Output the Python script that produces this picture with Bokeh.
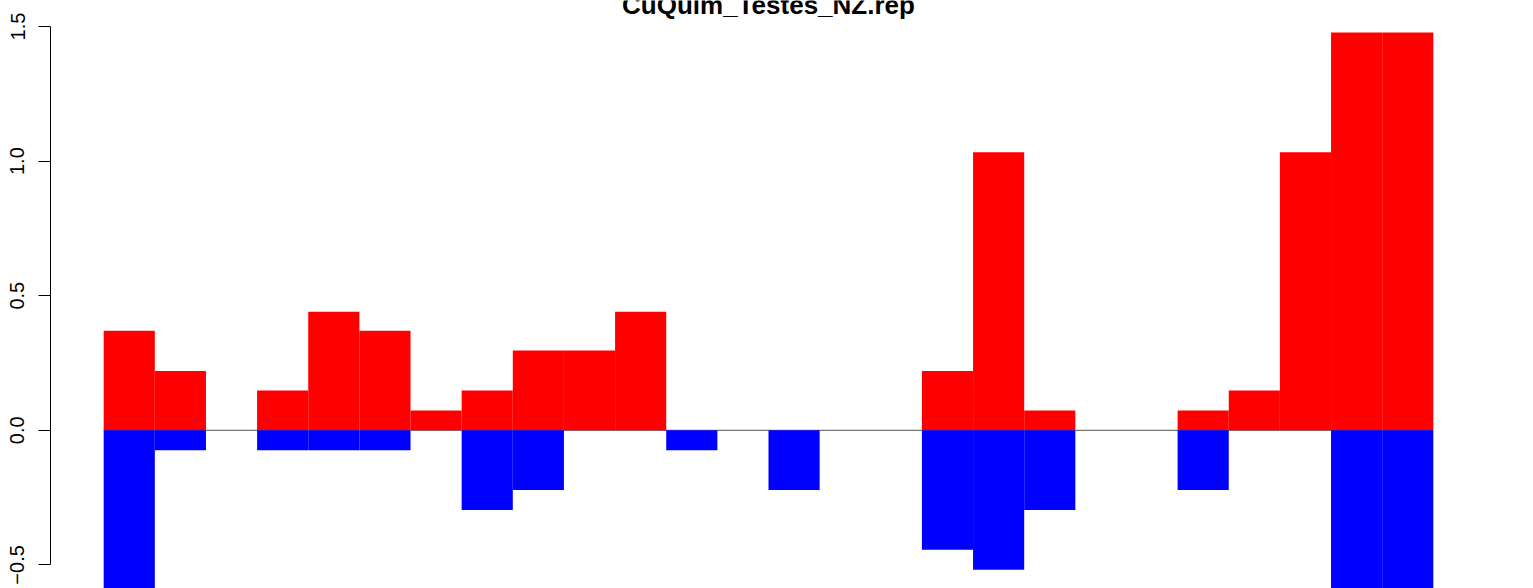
from bokeh.plotting import figure
from bokeh.models import Range1d, FixedTicker
from bokeh.core.properties import value
from bokeh.embed import file_html
from bokeh.resources import INLINE

title_text = "CuQuim_Testes_NZ.rep"
bins = list(range(1, 27))
red_values = [0.37, 0.22, 0.0, 0.148, 0.44, 0.37, 0.074, 0.148, 0.296, 0.296,
              0.44, 0.0, 0.0, 0.0, 0.0, 0.0, 0.22, 1.033, 0.074, 0.0,
              0.0, 0.074, 0.148, 1.033, 1.478, 1.478]
blue_values = [-0.74, -0.074, 0.0, -0.074, -0.074, -0.074, 0.0, -0.296, -0.222, 0.0,
               0.0, -0.074, 0.0, -0.222, 0.0, 0.0, -0.444, -0.518, -0.296, 0.0,
               0.0, -0.222, 0.0, 0.0, -0.74, -0.74]
y_ticks = [-0.5, 0.0, 0.5, 1.0, 1.5]
y_tick_labels = ["\u22120.5", "0.0", "0.5", "1.0", "1.5"]

n = len(bins)
xc = [b - 0.5 for b in bins]
ppu = 269.2  # pixels per y unit

W, H = 1525, 588
p = figure(width=W, height=H, output_backend="svg", toolbar_location=None,
           x_range=Range1d(-0.04 * n, n + 0.04 * n),
           y_range=Range1d(1.5 - 562 / ppu, 1.5 + 26 / ppu),
           min_border_left=50, min_border_right=39, min_border_top=0,
           min_border_bottom=0, x_axis_location=None)
p.title.visible = False
p.outline_line_color = None
p.grid.visible = False
p.background_fill_color = "white"
p.border_fill_color = "white"

p.line(x=[0, n], y=[0, 0], line_color="#555555", line_width=1)
p.vbar(x=xc, width=1.0, top=red_values, bottom=0, fill_color="#FF0000", line_color=None)
p.vbar(x=xc, width=1.0, top=0, bottom=blue_values, fill_color="#0000FF", line_color=None)

p.text(x=[n / 2], y=[1.5 + 21.3 / ppu], text=[title_text], text_align="center",
       text_baseline="alphabetic", text_font=value("Liberation Sans"),
       text_font_style="bold", text_font_size="26px", text_color="black")

ax = p.yaxis[0]
ax.ticker = FixedTicker(ticks=y_ticks)
ax.major_label_overrides = {t: l for t, l in zip(y_ticks, y_tick_labels)}
ax.bounds = (min(y_ticks), max(y_ticks))
ax.major_label_orientation = "vertical"
ax.major_label_text_font = "Liberation Sans"
ax.major_label_text_font_size = "20px"
ax.major_label_text_color = "black"
ax.major_label_standoff = 14
ax.major_tick_out = 12
ax.major_tick_in = 0
ax.minor_tick_line_color = None
ax.axis_line_color = "black"
ax.major_tick_line_color = "black"
ax.axis_line_width = 1

open("out.html", "w").write(file_html(p, INLINE))
